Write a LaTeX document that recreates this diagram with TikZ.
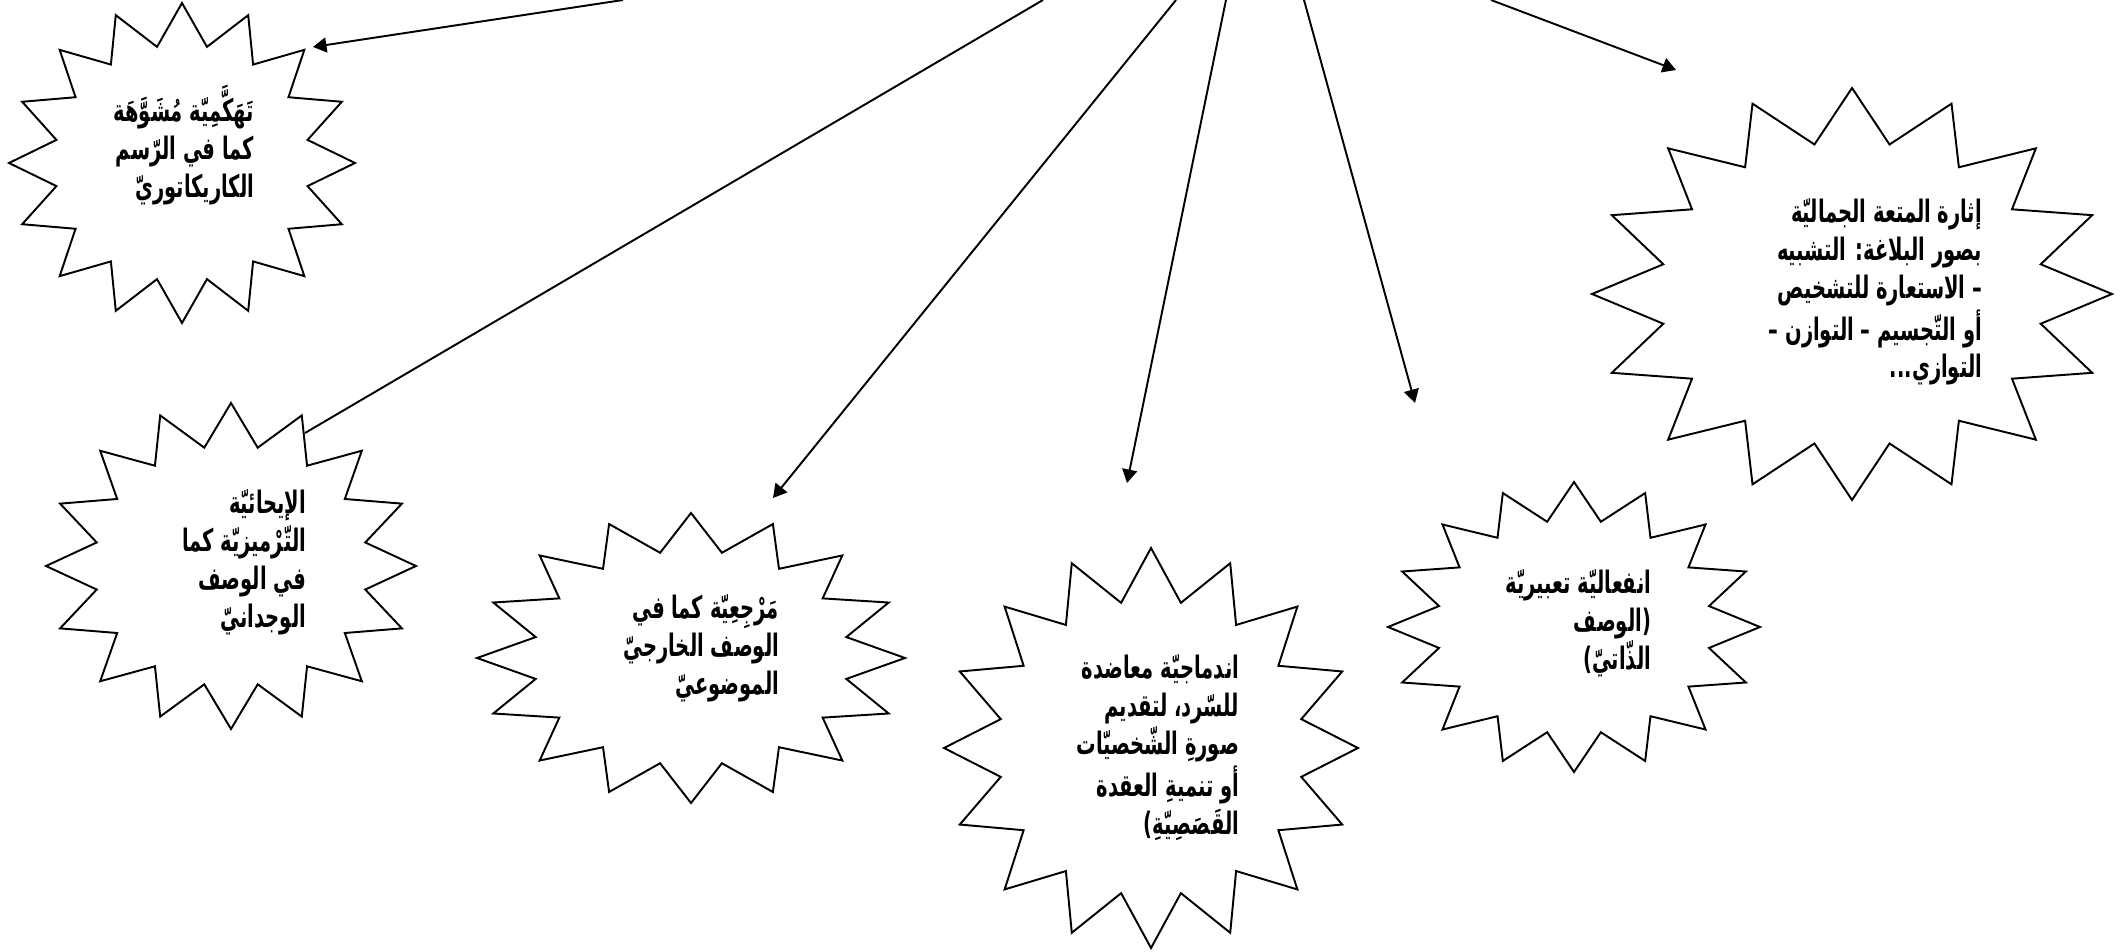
\documentclass[tikz,border=0pt]{standalone}
\usepackage{fontspec}
\usetikzlibrary{arrows.meta}
\newfontfamily\arabicfont[Script=Arabic, FakeStretch=0.63]{DejaVu Sans}
\TeXXeTstate=1
\newcommand{\arline}[1]{\beginR #1\endR}
% 16-point burst: centre x, centre y, x radius, y radius
\newcommand{\burst}[4]{%
  \draw[shift={(#1,#2)}] (90:#3 and #4)
    \foreach \k in {0,...,15} {
      -- ({101.25+22.5*\k}:{0.74*#3} and {0.74*#4}) -- ({112.5+22.5*\k}:#3 and #4)
    } -- cycle;}

\begin{document}
\begin{tikzpicture}
        [x=0.1mm, y=-0.1mm, line width=0.55pt, >={Triangle[length=1.35mm, width=1.5mm]},
         bursttext/.style={font=\arabicfont\bfseries\fontsize{8.8}{10.8}\selectfont, align=right, anchor=east, inner sep=0pt}]

        \useasboundingbox (0, 0) rectangle (2125, 952);

        % the bursts
        \burst{182}{163}{173}{160}
        \burst{1852}{294}{260}{206}
        \burst{231}{566}{185}{163}
        \burst{691}{658}{214}{145}
        \burst{1151}{748}{207}{200}
        \burst{1574}{627}{186}{145}

        \node[bursttext] (caricature) at (255, 145) {\arline{تَهَكَّمِيّة مُشَوَّهَة}\\ \arline{كما في الرّسم}\\ \arline{الكاريكاتوريّ}};
        \node[bursttext] (aesthetic) at (1983, 292) {\arline{إثارة المتعة الجماليّة}\\ \arline{بصور البلاغة: التشبيه}\\ \arline{– الاستعارة للتشخيص}\\ \arline{أو التّجسيم – التوازن –}\\ \arline{التوازي...}};
        \node[bursttext] (symbolic) at (307, 562) {\arline{الإيحائيّة}\\ \arline{التّرْميزيّة كما}\\ \arline{في الوصف}\\ \arline{الوجدانيّ}};
        \node[bursttext] (referential) at (780, 648) {\arline{مَرْجِعِيّة كما في}\\ \arline{الوصف الخارجيّ}\\ \arline{الموضوعيّ}};
        \node[bursttext] (narrative) at (1240, 748) {\arline{اندماجيّة معاضدة}\\ \arline{للسّرد، لتقديم}\\ \arline{صورةِ الشّخصيّات}\\ \arline{أو تنميةِ العقدة}\\ \arline{القَصَصِيّةِ)}};
        \node[bursttext] (emotive) at (1652, 623) {\arline{انفعاليّة تعبيريّة}\\ \arline{(الوصف}\\ \arline{الذّاتيّ)}};

        % connector ends at the top edge and near the bursts
        \coordinate (src_caricature) at (623, 0);
        \coordinate (tip_caricature) at (313, 47);
        \coordinate (src_symbolic) at (1043, 0);
        \coordinate (end_symbolic) at (305, 433);
        \coordinate (src_referential) at (1176, 0);
        \coordinate (tip_referential) at (773, 498);
        \coordinate (src_narrative) at (1226, 0);
        \coordinate (tip_narrative) at (1127, 483);
        \coordinate (src_emotive) at (1304, 0);
        \coordinate (tip_emotive) at (1415, 403);
        \coordinate (src_aesthetic) at (1491, 0);
        \coordinate (tip_aesthetic) at (1676, 70);

        \draw[->] (src_caricature) -- (tip_caricature);
        \draw (src_symbolic) -- (end_symbolic);
        \draw[->] (src_referential) -- (tip_referential);
        \draw[->] (src_narrative) -- (tip_narrative);
        \draw[->] (src_emotive) -- (tip_emotive);
        \draw[->] (src_aesthetic) -- (tip_aesthetic);
    \end{tikzpicture}
\end{document}
